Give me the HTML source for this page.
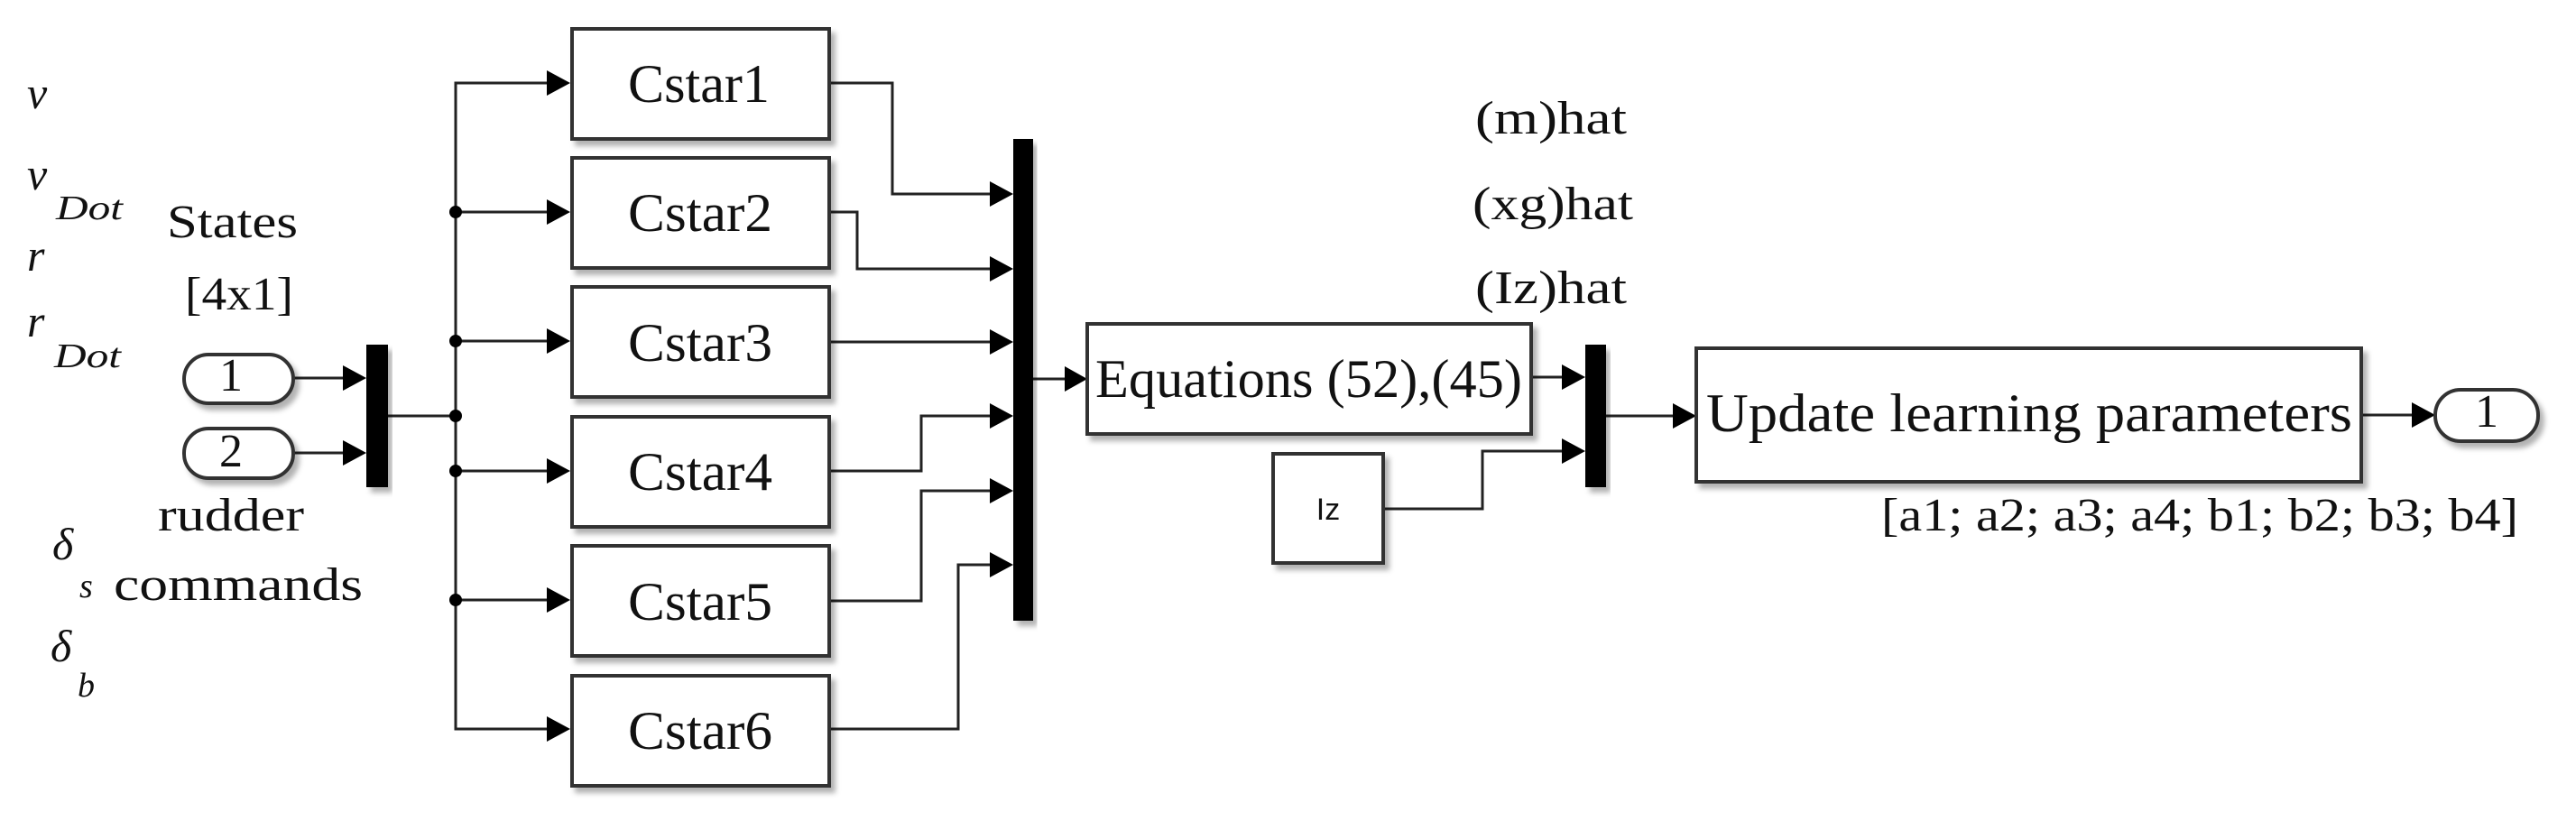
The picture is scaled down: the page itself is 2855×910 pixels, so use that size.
<!DOCTYPE html>
<html><head><meta charset="utf-8"><style>
html,body{margin:0;padding:0;background:#fff;}
svg{display:block;}
text{font-family:"Liberation Serif",serif;fill:#111;}
.it{font-style:italic;}
</style></head><body>
<svg width="2855" height="910" viewBox="0 0 2855 910" xmlns="http://www.w3.org/2000/svg">
<defs>
<filter id="sh" x="-10%" y="-10%" width="130%" height="140%"><feDropShadow dx="5" dy="6" stdDeviation="3" flood-color="#000" flood-opacity="0.3"/></filter>
</defs>
<g fill="none" stroke="#222" stroke-width="3">
<!-- inports to mux1 -->
<line x1="325" y1="419" x2="382" y2="419"/>
<line x1="325" y1="502" x2="382" y2="502"/>
<!-- mux1 out to split -->
<line x1="430" y1="461" x2="505" y2="461"/>
<polyline points="608,92 505,92 505,808 608,808"/>
<line x1="505" y1="235" x2="608" y2="235"/>
<line x1="505" y1="378" x2="608" y2="378"/>
<line x1="505" y1="522" x2="608" y2="522"/>
<line x1="505" y1="665" x2="608" y2="665"/>
<!-- cstar outputs to bus -->
<polyline points="920,92 989,92 989,215 1099,215"/>
<polyline points="920,235 950,235 950,298 1099,298"/>
<line x1="920" y1="379" x2="1099" y2="379"/>
<polyline points="920,522 1021,522 1021,461 1099,461"/>
<polyline points="920,666 1021,666 1021,544 1099,544"/>
<polyline points="920,808 1062,808 1062,626 1099,626"/>
<!-- bus to equations -->
<line x1="1145" y1="420" x2="1180" y2="420"/>
<line x1="1697" y1="418" x2="1733" y2="418"/>
<polyline points="1533,564 1643,564 1643,500 1733,500"/>
<line x1="1780" y1="461" x2="1856" y2="461"/>
<line x1="2617" y1="460" x2="2675" y2="460"/>
</g>
<!-- arrowheads -->
<g fill="#000">
<polygon points="380,405 406,419 380,433"/>
<polygon points="380,488 406,502 380,516"/>
<polygon points="606,78 632,92 606,106"/>
<polygon points="606,221 632,235 606,249"/>
<polygon points="606,364 632,378 606,392"/>
<polygon points="606,508 632,522 606,536"/>
<polygon points="606,651 632,665 606,679"/>
<polygon points="606,794 632,808 606,822"/>
<polygon points="1097,201 1123,215 1097,229"/>
<polygon points="1097,284 1123,298 1097,312"/>
<polygon points="1097,365 1123,379 1097,393"/>
<polygon points="1097,447 1123,461 1097,475"/>
<polygon points="1097,530 1123,544 1097,558"/>
<polygon points="1097,612 1123,626 1097,640"/>
<polygon points="1180,406 1205,420 1180,434"/>
<polygon points="1731,404 1757,418 1731,432"/>
<polygon points="1731,486 1757,500 1731,514"/>
<polygon points="1854,447 1880,461 1854,475"/>
<polygon points="2673,446 2699,460 2673,474"/>
<!-- junction dots -->
<circle cx="505" cy="235" r="7"/>
<circle cx="505" cy="378" r="7"/>
<circle cx="505" cy="461" r="7"/>
<circle cx="505" cy="522" r="7"/>
<circle cx="505" cy="665" r="7"/>
<!-- mux bars -->
<rect x="406" y="382" width="24" height="158" filter="url(#sh)"/>
<rect x="1123" y="154" width="22" height="534" filter="url(#sh)"/>
<rect x="1757" y="382" width="23" height="158" filter="url(#sh)"/>
</g>
<!-- boxes -->
<g fill="#fff" stroke="#333" stroke-width="4" filter="url(#sh)">
<rect x="634" y="32" width="285" height="122"/>
<rect x="634" y="175" width="285" height="122"/>
<rect x="634" y="318" width="285" height="122"/>
<rect x="634" y="462" width="285" height="122"/>
<rect x="634" y="605" width="285" height="122"/>
<rect x="634" y="749" width="285" height="122"/>
<rect x="1205" y="359" width="492" height="122"/>
<rect x="1411" y="503" width="122" height="121"/>
<rect x="1880" y="386" width="737" height="148"/>
<rect x="204" y="393" width="121" height="54" rx="27"/>
<rect x="204" y="475" width="121" height="55" rx="27"/>
<rect x="2699" y="432" width="114" height="57" rx="28"/>
</g>
<!-- texts -->
<g font-size="60">
<text x="696" y="113" textLength="157" lengthAdjust="spacingAndGlyphs">Cstar1</text>
<text x="696" y="256" textLength="160" lengthAdjust="spacingAndGlyphs">Cstar2</text>
<text x="696" y="400" textLength="160" lengthAdjust="spacingAndGlyphs">Cstar3</text>
<text x="696" y="543" textLength="160" lengthAdjust="spacingAndGlyphs">Cstar4</text>
<text x="696" y="687" textLength="160" lengthAdjust="spacingAndGlyphs">Cstar5</text>
<text x="696" y="830" textLength="160" lengthAdjust="spacingAndGlyphs">Cstar6</text>
<text x="1214" y="440" textLength="473" lengthAdjust="spacingAndGlyphs">Equations (52),(45)</text>
<text x="1891" y="478" textLength="716" lengthAdjust="spacingAndGlyphs">Update learning parameters</text>
</g>
<g font-size="52">
<text x="185" y="263" textLength="145" lengthAdjust="spacingAndGlyphs">States</text>
<text x="205" y="343" textLength="120" lengthAdjust="spacingAndGlyphs">[4x1]</text>
<text x="256" y="433" text-anchor="middle">1</text>
<text x="256" y="517" text-anchor="middle">2</text>
<text x="175" y="588" textLength="162" lengthAdjust="spacingAndGlyphs">rudder</text>
<text x="126" y="665" textLength="276" lengthAdjust="spacingAndGlyphs">commands</text>
<text x="1635" y="148" textLength="168" lengthAdjust="spacingAndGlyphs">(m)hat</text>
<text x="1632" y="243" textLength="178" lengthAdjust="spacingAndGlyphs">(xg)hat</text>
<text x="1635" y="336" textLength="168" lengthAdjust="spacingAndGlyphs">(Iz)hat</text>
<text x="2756" y="473" text-anchor="middle">1</text>
<text x="2085" y="588" textLength="706" lengthAdjust="spacingAndGlyphs">[a1; a2; a3; a4; b1; b2; b3; b4]</text>
</g>
<text x="1472" y="576" font-size="34" text-anchor="middle" style="font-family:'Liberation Sans',sans-serif">Iz</text>
<g class="it" font-size="50">
<text x="30" y="120">ν</text>
<text x="30" y="210">ν</text>
<text x="30" y="300">r</text>
<text x="30" y="373">r</text>
<text x="58" y="620">δ</text>
<text x="56" y="733">δ</text>
</g>
<g class="it" font-size="38">
<text x="62" y="243" textLength="74" lengthAdjust="spacingAndGlyphs">Dot</text>
<text x="60" y="407" textLength="74" lengthAdjust="spacingAndGlyphs">Dot</text>
<text x="88" y="662">s</text>
<text x="86" y="772">b</text>
</g>
</svg>
</body></html>
